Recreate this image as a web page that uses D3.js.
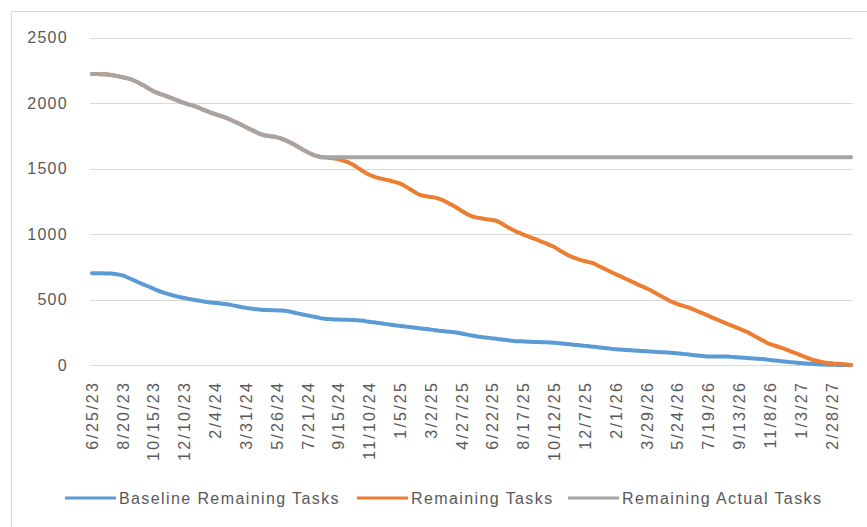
<!DOCTYPE html>
<html lang="en">
<head>
  <meta charset="UTF-8" />
  <title>Remaining Tasks Burndown</title>
  <script src="https://d3js.org/d3.v7.min.js"></script>
  <style>
    body {
      margin: 0;
      background: #fff;
      font-family: "Liberation Sans", Arial, sans-serif;
    }
    .tick-label {
      font-size: 16px;
      fill: #595959;
    }
    .legend-label {
      font-size: 16px;
      fill: #595959;
      letter-spacing: 1.4px;
    }
  </style>
</head>
<body>
  <div id="chart"></div>

  <script>
    // weekly categories, starting 6/25/23
    const startDate = new Date(2023, 5, 25);
    const weekCount = 198;

    const yTicks = [0, 500, 1000, 1500, 2000, 2500];

    const xTickLabels = ["6/25/23", "8/20/23", "10/15/23", "12/10/23", "2/4/24", "3/31/24",
      "5/26/24", "7/21/24", "9/15/24", "11/10/24", "1/5/25", "3/2/25", "4/27/25", "6/22/25",
      "8/17/25", "10/12/25", "12/7/25", "2/1/26", "3/29/26", "5/24/26", "7/19/26", "9/13/26",
      "11/8/26", "1/3/27", "2/28/27"];

    const seriesNames = ["Baseline Remaining Tasks", "Remaining Tasks", "Remaining Actual Tasks"];
    const seriesColors = ["#5b9bd5", "#ed7d31", "#a5a5a5"];

    const baselineRemaining = [
      701, 701, 700, 700, 699, 698,
      695, 690, 683, 672, 658,
      645, 632, 619, 607, 595,
      582, 569, 558, 548, 540,
      532, 524, 517, 511, 505,
      500, 495, 490, 485, 480,
      477, 474, 471, 468, 464,
      459, 453, 447, 441, 436,
      432, 428, 425, 422, 420,
      419, 418, 417, 416, 415,
      410, 403, 396, 390, 384,
      378, 372, 366, 360, 355,
      352, 350, 348, 347, 346,
      345, 344, 343, 341, 339,
      335, 330, 326, 322, 318,
      314, 310, 306, 302, 298,
      295, 291, 288, 284, 281,
      277, 274, 270, 266, 262,
      259, 256, 253, 250, 246,
      240, 234, 228, 223, 218,
      214, 210, 207, 203, 200,
      196, 192, 189, 185, 182,
      181, 180, 178, 177, 176,
      175, 174, 173, 172, 170,
      167, 164, 161, 158, 155,
      152, 149, 146, 143, 140,
      137, 134, 130, 127, 123,
      120, 118, 116, 114, 112,
      110, 108, 106, 105, 103,
      101, 99, 97, 96, 94,
      92, 89, 86, 83, 80,
      77, 73, 70, 67, 64,
      64, 64, 64, 64, 64,
      62, 60, 58, 56, 53,
      51, 49, 47, 45, 42,
      39, 35, 32, 28, 25,
      22, 20, 17, 15, 12,
      10, 8, 6, 4, 3,
      2, 1, 1, 0, 0, 0, 0
    ];

    const remainingTasks = [
      2221, 2221, 2220, 2219, 2217, 2214,
      2209, 2203, 2197, 2190, 2182,
      2170, 2156, 2140, 2124, 2106,
      2090, 2077, 2066, 2056, 2045,
      2034, 2022, 2010, 2000, 1990,
      1982, 1972, 1960, 1948, 1936,
      1925, 1915, 1905, 1896, 1885,
      1872, 1858, 1845, 1830, 1815,
      1800, 1786, 1772, 1760, 1752,
      1748, 1744, 1738, 1730, 1718,
      1705, 1690, 1673, 1656, 1640,
      1624, 1610, 1598, 1590,
      1585, 1583, 1580, 1576, 1570, 1562,
      1552, 1540, 1525, 1505, 1485,
      1468, 1452, 1440, 1430, 1423,
      1416, 1410, 1402, 1394, 1385,
      1370, 1352, 1334, 1316, 1300,
      1292, 1287, 1283, 1278, 1270,
      1258, 1244, 1228, 1212, 1195,
      1176, 1158, 1142, 1132, 1125,
      1120, 1115, 1110, 1106, 1100,
      1085, 1068, 1050, 1035, 1020,
      1008, 995, 984, 973, 962,
      950, 938, 926, 913, 900,
      882, 864, 847, 832, 820,
      810, 800, 792, 785, 778,
      763, 748, 735, 720, 705,
      692, 679, 665, 651, 638,
      624, 610, 597, 584, 570,
      553, 537, 521, 505, 488,
      476, 465, 455, 446, 437,
      425, 412, 400, 388, 375,
      362, 350, 337, 325, 312,
      300, 289, 277, 265, 253,
      237, 220, 204, 188, 172,
      160, 150, 140, 130, 120,
      108, 97, 86, 74, 62,
      50, 40, 32, 25, 20,
      16, 13, 10, 8, 6,
      3, 0
    ];

    const remainingActual = [
      2221, 2221, 2220, 2219, 2217, 2214,
      2209, 2203, 2197, 2190, 2182,
      2170, 2156, 2140, 2124, 2106,
      2090, 2077, 2066, 2056, 2045,
      2034, 2022, 2010, 2000, 1990,
      1982, 1972, 1960, 1948, 1936,
      1925, 1915, 1905, 1896, 1885,
      1872, 1858, 1845, 1830, 1815,
      1800, 1786, 1772, 1760, 1752,
      1748, 1744, 1738, 1730, 1718,
      1705, 1690, 1673, 1656, 1640,
      1624, 1610, 1598, 1590,
      1585, 1585, 1585, 1585, 1585, 1585, 1585, 1585, 1585, 1585,
      1585, 1585, 1585, 1585, 1585, 1585, 1585, 1585, 1585, 1585,
      1585, 1585, 1585, 1585, 1585, 1585, 1585, 1585, 1585, 1585,
      1585, 1585, 1585, 1585, 1585, 1585, 1585, 1585, 1585, 1585,
      1585, 1585, 1585, 1585, 1585, 1585, 1585, 1585, 1585, 1585,
      1585, 1585, 1585, 1585, 1585, 1585, 1585, 1585, 1585, 1585,
      1585, 1585, 1585, 1585, 1585, 1585, 1585, 1585, 1585, 1585,
      1585, 1585, 1585, 1585, 1585, 1585, 1585, 1585, 1585, 1585,
      1585, 1585, 1585, 1585, 1585, 1585, 1585, 1585, 1585, 1585,
      1585, 1585, 1585, 1585, 1585, 1585, 1585, 1585, 1585, 1585,
      1585, 1585, 1585, 1585, 1585, 1585, 1585, 1585, 1585, 1585,
      1585, 1585, 1585, 1585, 1585, 1585, 1585, 1585, 1585, 1585,
      1585, 1585, 1585, 1585, 1585, 1585, 1585, 1585, 1585, 1585,
      1585, 1585, 1585, 1585, 1585, 1585, 1585, 1585
    ];

    const width = 867;
    const height = 527;
    const plotLeft = 90, plotRight = 853, plotTop = 37.5, plotBottom = 365;

    const fmt = d3.timeFormat("%-m/%-d/%y");
    const weeks = d3.range(weekCount).map(i => fmt(d3.timeDay.offset(startDate, i * 7)));

    const svg = d3.select("#chart")
                  .append("svg")
                    .attr("width", width)
                    .attr("height", height);

    // chart frame
    svg.append("rect")
       .attr("x", 11.5)
       .attr("y", 11.5)
       .attr("width", width)
       .attr("height", height)
       .attr("fill", "none")
       .attr("stroke", "#d9d9d9");

    const x = d3.scaleBand()
                .domain(weeks)
                .range([plotLeft, plotRight]);

    const y = d3.scaleLinear()
                .domain([0, 2500])
                .range([plotBottom, plotTop]);

    const cx = d => x(d) + x.bandwidth() / 2;

    // gridlines + y labels
    const yAxis = svg.append("g");
    yAxis.selectAll("line")
         .data(yTicks)
         .enter()
         .append("line")
           .attr("x1", plotLeft)
           .attr("x2", plotRight)
           .attr("y1", d => Math.round(y(d)) + 0.5)
           .attr("y2", d => Math.round(y(d)) + 0.5)
           .attr("stroke", "#d9d9d9")
           .attr("stroke-width", 1.2);

    yAxis.selectAll("text")
         .data(yTicks)
         .enter()
         .append("text")
           .attr("class", "tick-label")
           .attr("x", 68)
           .attr("y", d => y(d))
           .attr("dy", "0.36em")
           .attr("text-anchor", "end")
           .attr("letter-spacing", "1.3px")
           .text(d => d);

    // x labels, every 8th week
    svg.append("g")
       .selectAll("text")
       .data(xTickLabels)
       .enter()
       .append("text")
         .attr("class", "tick-label")
         .attr("text-anchor", "end")
         .attr("letter-spacing", "2.2px")
         .attr("transform", d => `translate(${cx(d) + 5.8}, 381) rotate(-90)`)
         .text(d => d);

    const line = d3.line()
                   .x((d, i) => cx(weeks[i]))
                   .y(d => y(d))
                   .curve(d3.curveMonotoneX);

    const allSeries = [baselineRemaining, remainingTasks, remainingActual];

    svg.append("g")
       .selectAll("path")
       .data(allSeries)
       .enter()
       .append("path")
         .attr("d", d => line(d))
         .attr("fill", "none")
         .attr("stroke", (d, i) => seriesColors[i])
         .attr("stroke-width", 4)
         .attr("stroke-linejoin", "round")
         .attr("stroke-linecap", "round");

    // legend
    const legendX = [65, 357, 568];
    const legend = svg.append("g")
                      .selectAll("g")
                      .data(seriesNames)
                      .enter()
                      .append("g")
                        .attr("transform", (d, i) => `translate(${legendX[i]}, 498)`);

    legend.append("line")
          .attr("x1", 0)
          .attr("x2", 51)
          .attr("stroke", (d, i) => seriesColors[i])
          .attr("stroke-width", 3.2);

    legend.append("text")
          .attr("class", "legend-label")
          .attr("x", 54)
          .attr("dy", "0.35em")
          .text(d => d);
  </script>
</body>
</html>
